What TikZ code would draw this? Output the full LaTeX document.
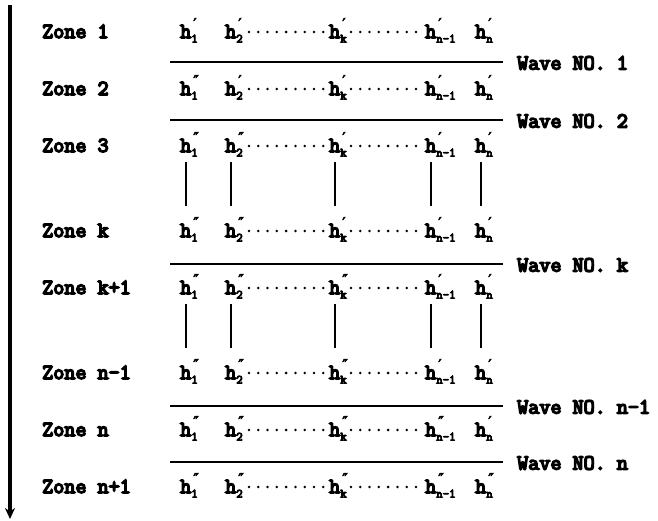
\documentclass[tikz,border=0pt]{standalone}
\usepackage{fontspec}
\setmainfont{Latin Modern Mono}[FakeBold=7]
\newfontfamily\primefont{DejaVu Sans}[FakeBold=3]
\usetikzlibrary{arrows.meta}
% h with a subscript index and a stacked prime mark
\newcommand\subsz{\fontsize{12.5}{12.5}\selectfont}
\newcommand\hsym[2]{h\rlap{\raisebox{-4.5pt}{\subsz #1}}\rlap{\hspace{2pt}\raisebox{9pt}{\primefont\fontsize{15}{15}\selectfont #2}}\hphantom{\subsz #1}}
\begin{document}
\begin{tikzpicture}[x=1pt,y=-1pt,
  every node/.style={inner sep=0pt, font=\fontsize{21.5}{21.5}\selectfont},
  zonelabel/.style={anchor=base west},
  hnode/.style={anchor=base west},
  wavelabel/.style={anchor=west},
  rule/.style={line width=2pt},
  dotrow/.style={line width=2.8pt, line cap=round, dash pattern=on 0pt off 9.3pt},
  bar/.style={line width=2pt},
  axis/.style={line width=3.4pt, -{Stealth[length=11pt,width=10pt]}}]
\useasboundingbox (0,0) rectangle (658,520);

% time axis on the left
\coordinate (axtop) at (10,5);
\coordinate (axbot) at (10,519);
\draw[axis] (axtop) -- (axbot);

% zone rows
\foreach \r/\lab/\pa/\pb/\pc/\pd/\pe/\y in {
  1/Zone 1/′/′/′/′/′/38,
  2/Zone 2/″/′/′/′/′/95,
  3/Zone 3/″/″/′/′/′/152,
  4/Zone k/″/″/′/′/′/237,
  5/Zone k+1/″/″/″/′/′/294,
  6/Zone n-1/″/″/″/′/′/379,
  7/Zone n/″/″/″/″/′/436,
  8/Zone n+1/″/″/″/″/″/493}{
  \node[zonelabel] (z\r) at (42,\y) {\lab};
  \node[hnode] (a\r) at (180,\y) {\hsym{1}{\pa}};
  \node[hnode] (b\r) at (225,\y) {\hsym{2}{\pb}};
  \node[hnode] (c\r) at (329,\y) {\hsym{k}{\pc}};
  \node[hnode] (d\r) at (425,\y) {\hsym{n-1}{\pd}};
  \node[hnode] (e\r) at (475,\y) {\hsym{n}{\pe}};
  \draw[dotrow] ([shift={(6pt,6pt)}]b\r.base east) -- ([shift={(-3pt,6pt)}]c\r.base west);
  \draw[dotrow] ([shift={(4pt,6pt)}]c\r.base east) -- ([shift={(-3pt,6pt)}]d\r.base west);
}

% omitted zones
\foreach \u/\v in {3/4,5/6}{
  \foreach \c in {a,b,c,d,e}{
    \draw[bar] ([shift={(5.5pt,-10pt)}]\c\u.base west) -- ([shift={(5.5pt,31pt)}]\c\v.base west);
  }
}

% wave fronts
\foreach \w/\lab/\y in {1/Wave NO. 1/62, 2/Wave NO. 2/120, 3/Wave NO. k/264, 4/Wave NO. n-1/406, 5/Wave NO. n/462}{
  \node[wavelabel] (w\w) at (517,\y+1) {\lab};
  \coordinate (r\w) at (170,\y);
  \draw[rule, shorten >=14pt] (r\w) -- (r\w -| w\w.west);
}
\end{tikzpicture}
\end{document}
